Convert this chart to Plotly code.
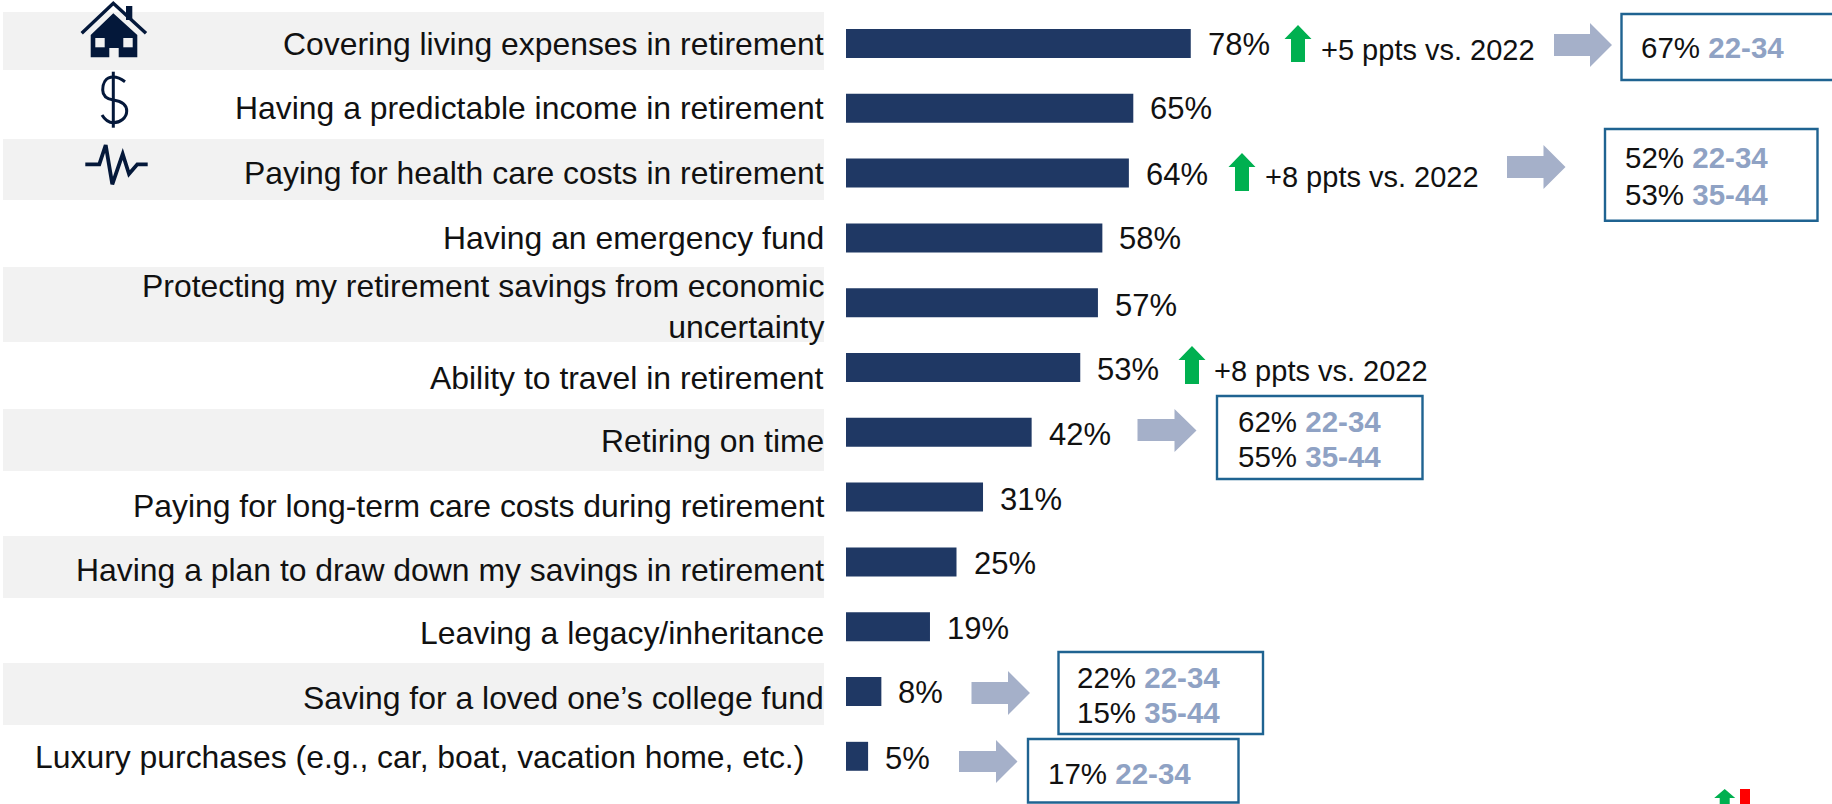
import plotly.graph_objects as go

categories = [
    "Covering living expenses in retirement",
    "Having a predictable income in retirement",
    "Paying for health care costs in retirement",
    "Having an emergency fund",
    "Protecting my retirement savings from economic<br>uncertainty",
    "Ability to travel in retirement",
    "Retiring on time",
    "Paying for long-term care costs during retirement",
    "Having a plan to draw down my savings in retirement",
    "Leaving a legacy/inheritance",
    "Saving for a loved one’s college fund",
    "Luxury purchases (e.g., car, boat, vacation home, etc.)",
]
values = [78, 65, 64, 58, 57, 53, 42, 31, 25, 19, 8, 5]
change_labels = ["+5 ppts vs. 2022", "+8 ppts vs. 2022", "+8 ppts vs. 2022"]
box_pcts = [["67%"], ["52%", "53%"], ["62%", "55%"], ["22%", "15%"], ["17%"]]
box_ages = [["22-34"], ["22-34", "35-44"], ["22-34", "35-44"], ["22-34", "35-44"], ["22-34"]]

# vertical nudges (px) of row labels and value labels, and right edge of row labels
label_nudge = [0, 0, 0, 0, 4, 10, 9, 9, 8, 6, 6, 1]
value_nudge = [1, 0, 1, 1, 3, 2, 2, 2, 2, 2, 1, 2]
label_right = [825.5] * 11 + [806]

W, H = 1832, 804
L = 846
PX_PER_UNIT = 4.42
ROW0, ROW = 43.5, 64.8
NAVY, GREEN, ARROW, BOXC, AGE, BAND, ICON = "#1F3864", "#00B050", "#A5B0C9", "#1F6391", "#8FA2C4", "#F2F2F2", "#04183A"
FONT = "Liberation Sans"


def px(x):
    return (x - L) / (W - L)


def py(y):
    return 1 - y / H


def path(points, close=True):
    s = "M " + " L ".join(f"{px(a):.5f},{py(b):.5f}" for a, b in points)
    return s + (" Z" if close else "")


shapes = []
annotations = []

# alternating bands
for y0, y1 in [(12, 70), (139, 200), (267, 342), (409, 471), (536, 598), (663, 725)]:
    shapes.append(dict(type="rect", xref="paper", yref="paper", x0=px(3), x1=px(824), y0=py(y0), y1=py(y1),
                       fillcolor=BAND, line_width=0, layer="below"))


def fill(points, color):
    shapes.append(dict(type="path", xref="paper", yref="paper", path=path(points), fillcolor=color, line_width=0))


def stroke(d, width):
    shapes.append(dict(type="path", xref="paper", yref="paper", path=d, line=dict(color=ICON, width=width),
                       fillcolor="rgba(0,0,0,0)"))


# gray callout arrows
for x0, x1, x2, s0, s1, h0, h1 in [
    (1554, 1590, 1612, 34, 56, 23, 67),
    (1507, 1543.5, 1565.5, 156, 178, 145, 189),
    (1137.5, 1174.5, 1196.5, 419, 441, 409, 452),
    (971.5, 1008, 1030, 682, 704, 671, 715),
    (959, 996, 1017.5, 751, 772, 740, 783),
]:
    fill([(x0, s0), (x1, s0), (x1, h0), (x2, (h0 + h1) / 2), (x1, h1), (x1, s1), (x0, s1)], ARROW)


# green up arrows
def up(cx, tip, head, bottom, hw, sw):
    fill([(cx, tip), (cx + hw, head), (cx + sw, head), (cx + sw, bottom), (cx - sw, bottom), (cx - sw, head), (cx - hw, head)], GREEN)


up(1298, 25, 39, 62, 13.5, 7)
up(1242, 153, 167, 191, 13.5, 7)
up(1192, 346, 360, 384, 13.5, 7)
up(1724.7, 789, 798, 810, 10.5, 5)
fill([(1740, 789), (1750, 789), (1750, 810), (1740, 810)], "#FF0000")

# boxes
for x0, x1, y0, y1 in [(1621.5, 1850, 14, 80), (1605, 1817.5, 129, 220.7), (1217, 1422.5, 396, 479),
                       (1058.5, 1263, 652, 734), (1028, 1238.5, 739, 802.5)]:
    shapes.append(dict(type="rect", xref="paper", yref="paper", x0=px(x0), x1=px(x1), y0=py(y0), y1=py(y1),
                       line=dict(color=BOXC, width=2.4), fillcolor="rgba(0,0,0,0)"))

# house icon
stroke(path([(81.7, 33.3), (113.3, 3.3), (146, 33.3)], close=False), 3.4)
fill([(126, 6), (132.3, 6), (132.3, 20), (126, 20)], ICON)
fill([(113.3, 13.3), (137.3, 35), (137.3, 57.3), (118.7, 57.3), (118.7, 48), (109.3, 48), (109.3, 57.3), (90.7, 57.3), (90.7, 35)], ICON)
fill([(95.3, 38), (104.7, 38), (104.7, 47.3), (95.3, 47.3)], BAND)
fill([(123.3, 38), (132.7, 38), (132.7, 47.3), (123.3, 47.3)], BAND)

# dollar icon
stroke(path([(113.3, 71.7), (113.3, 127.7)], close=False), 3)
curve = [(125, 81.7), (120, 78), (116, 77), (113.3, 77), (105, 77), (102.7, 84), (102.7, 90), (102.7, 96), (107, 99),
         (113.3, 100), (120, 101), (126.7, 104), (126.7, 111), (126.7, 118), (120, 122.7), (113.3, 122.7), (109, 122.7),
         (105, 120), (102, 115)]
d = f"M {px(curve[0][0]):.5f},{py(curve[0][1]):.5f}"
for i in range(1, len(curve), 3):
    d += " C " + " ".join(f"{px(a):.5f},{py(b):.5f}" for a, b in curve[i:i + 3])
stroke(d, 3)

# pulse icon
stroke(path([(85.3, 164.3), (99.3, 164.3), (105.7, 145), (112.3, 184.3), (122.7, 154), (129, 174), (137.3, 164.3), (147.7, 164.3)], close=False), 3.8)


def note(x, y, text, size, anchor="left", color="#111111"):
    annotations.append(dict(xref="paper", yref="paper", x=px(x), y=py(y), text=text, showarrow=False, xanchor=anchor,
                            yanchor="middle", align="left", font=dict(family=FONT, size=size, color=color)))


# row labels and value labels, attached to the rows
for c, v, ln, vn, r in zip(categories, values, label_nudge, value_nudge, label_right):
    annotations.append(dict(x=px(r), y=c, xref="paper", yref="y", text=c, showarrow=False, xanchor="right", yanchor="middle",
                            align="right", yshift=-ln, font=dict(family=FONT, size=31.9, color="#111111")))
    annotations.append(dict(x=v, y=c, xref="x", yref="y", text=f"{v}%", showarrow=False, xanchor="left", yanchor="middle",
                            xshift=15, yshift=-vn, font=dict(family=FONT, size=31, color="#111111")))

for label, (x, y) in zip(change_labels, [(1318.5, 50), (1262.5, 177), (1212, 371)]):
    note(x, y, label, 29)

box_text_pos = [(1639, [48]), (1622.5, [158, 195]), (1235.5, [421, 456]), (1075, [677, 712]), (1046, [773])]
for pcts, ages, (x, ys) in zip(box_pcts, box_ages, box_text_pos):
    for p, a, y in zip(pcts, ages, ys):
        note(x, y, f'{p} <span style="color:{AGE}"><b>{a}</b></span>', 29.5)

note(1802, 815, "20", 21)

fig = go.Figure(go.Bar(y=categories, x=values, orientation="h", width=0.447, marker=dict(color=NAVY, line_width=0),
                       hoverinfo="skip"))
fig.update_layout(
    width=W, height=H, margin=dict(l=L, r=0, t=0, b=0), paper_bgcolor="white", plot_bgcolor="rgba(0,0,0,0)",
    showlegend=False, shapes=shapes, annotations=annotations,
    font=dict(family=FONT, color="#111111"),
    xaxis=dict(range=[0, (W - L) / PX_PER_UNIT], visible=False, fixedrange=True),
    yaxis=dict(type="category", categoryorder="array", categoryarray=categories,
               range=[(H - ROW0) / ROW, -ROW0 / ROW], showline=False, showgrid=False, zeroline=False,
               ticks="", showticklabels=False, automargin=False, fixedrange=True),
)
fig.write_html("out.html", config={"displayModeBar": False},
               post_script="document.body.style.margin='0';document.body.style.overflow='hidden';")
